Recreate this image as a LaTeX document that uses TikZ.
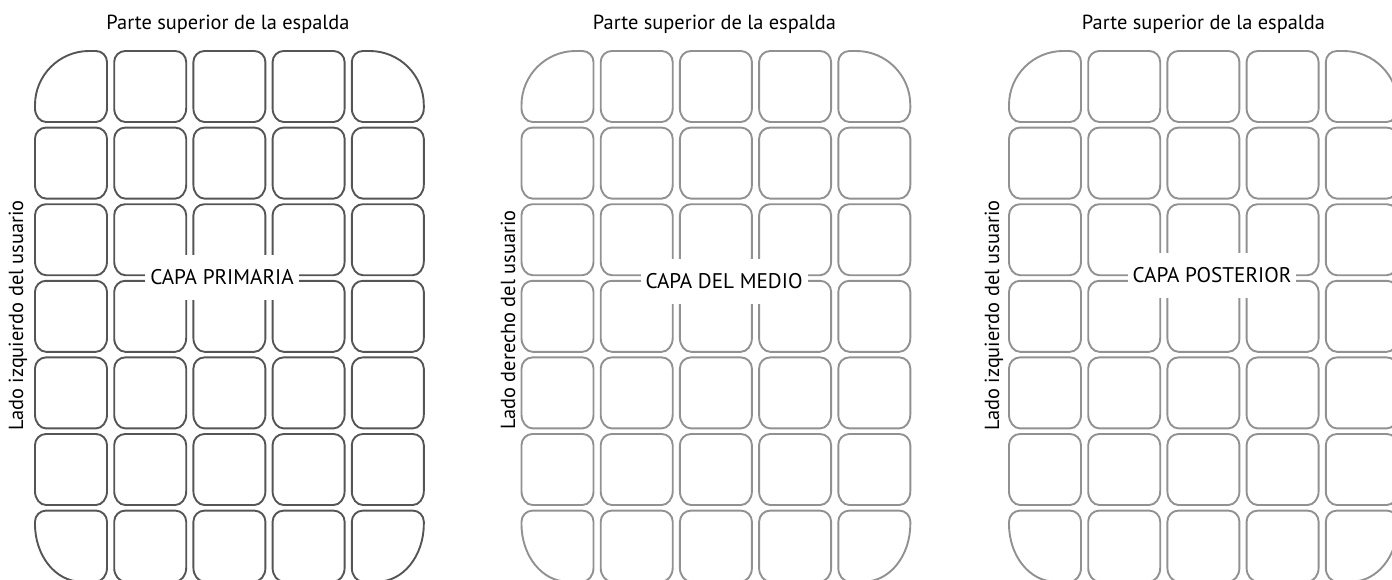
\documentclass[tikz,border=0pt]{standalone}
\usepackage{fontspec}
\setmainfont{PT Sans}
\usepackage{tikz}
\usepackage{xcolor}

\definecolor{padDark}{HTML}{555555}
\definecolor{padLight}{HTML}{919191}

% one pad of the grid: left, top, corner radii (tl, tr, br, bl)
\newcommand{\padcell}[6]{%
  \draw (#1,#2+#3) .. controls (#1,#2+0.45*#3) and (#1+0.45*#3,#2) .. (#1+#3,#2)
    -- (#1+72-#4,#2) .. controls (#1+72-0.45*#4,#2) and (#1+72,#2+0.45*#4) .. (#1+72,#2+#4)
    -- (#1+72,#2+71-1.25*#5) .. controls (#1+72,#2+71-0.56*#5) and (#1+72-0.45*#5,#2+71) .. (#1+72-#5,#2+71)
    -- (#1+#6,#2+71) .. controls (#1+0.45*#6,#2+71) and (#1,#2+71-0.56*#6) .. (#1,#2+71-1.25*#6)
    -- cycle;}

\begin{document}
\begin{tikzpicture}[x=0.5pt,y=-0.5pt]
  \tikzstyle{every node}=[font=\fontsize{10.2}{12}\selectfont]
  \tikzstyle{toplabel}=[anchor=base]
  \tikzstyle{sidelabel}=[rotate=90]
  \tikzstyle{layerlabel}=[fill=white,minimum height=22.5pt,inner xsep=2.5pt,
                          font=\fontsize{10.6}{12}\selectfont]

  \useasboundingbox (0,0) rectangle (1392,579);
  \clip (0,0) rectangle (1392,579);

  % the three pad grids
  \foreach \gx/\gcol in {35/padDark, 521.5/padLight, 1009/padLight}
  {
    \begin{scope}[draw=\gcol,line width=0.95pt]
      \foreach \col in {0,...,4}
        \foreach \row in {0,...,6}
        {
          \pgfmathsetmacro\cx{\gx+79.2*\col}
          \pgfmathsetmacro\cy{51+76.6*\row}
          \pgfmathsetmacro\rtl{(\col==0 && \row==0) ? 54 : 11}
          \pgfmathsetmacro\rtr{(\col==4 && \row==0) ? 54 : 11}
          \pgfmathsetmacro\rbr{(\col==4 && \row==6) ? 46 : 11}
          \pgfmathsetmacro\rbl{(\col==0 && \row==6) ? 46 : 11}
          \padcell{\cx}{\cy}{\rtl}{\rtr}{\rbr}{\rbl}
        }
    \end{scope}
  }

  \node[toplabel]   (top_a)   at (228,29)     {Parte superior de la espalda};
  \node[toplabel]   (top_b)   at (714.5,29)   {Parte superior de la espalda};
  \node[toplabel]   (top_c)   at (1203.5,29)  {Parte superior de la espalda};

  \node[sidelabel]  (side_a)  at (18,315.5)   {Lado izquierdo del usuario};
  \node[sidelabel]  (side_b)  at (508,320)    {Lado derecho del usuario};
  \node[sidelabel]  (side_c)  at (994,315.5)  {Lado izquierdo del usuario};

  \node[layerlabel] (layer_a) at (222,277.5)  {CAPA PRIMARIA};
  \node[layerlabel] (layer_b) at (724,281)    {CAPA DEL MEDIO};
  \node[layerlabel] (layer_c) at (1212,275)   {CAPA POSTERIOR};
\end{tikzpicture}
\end{document}
